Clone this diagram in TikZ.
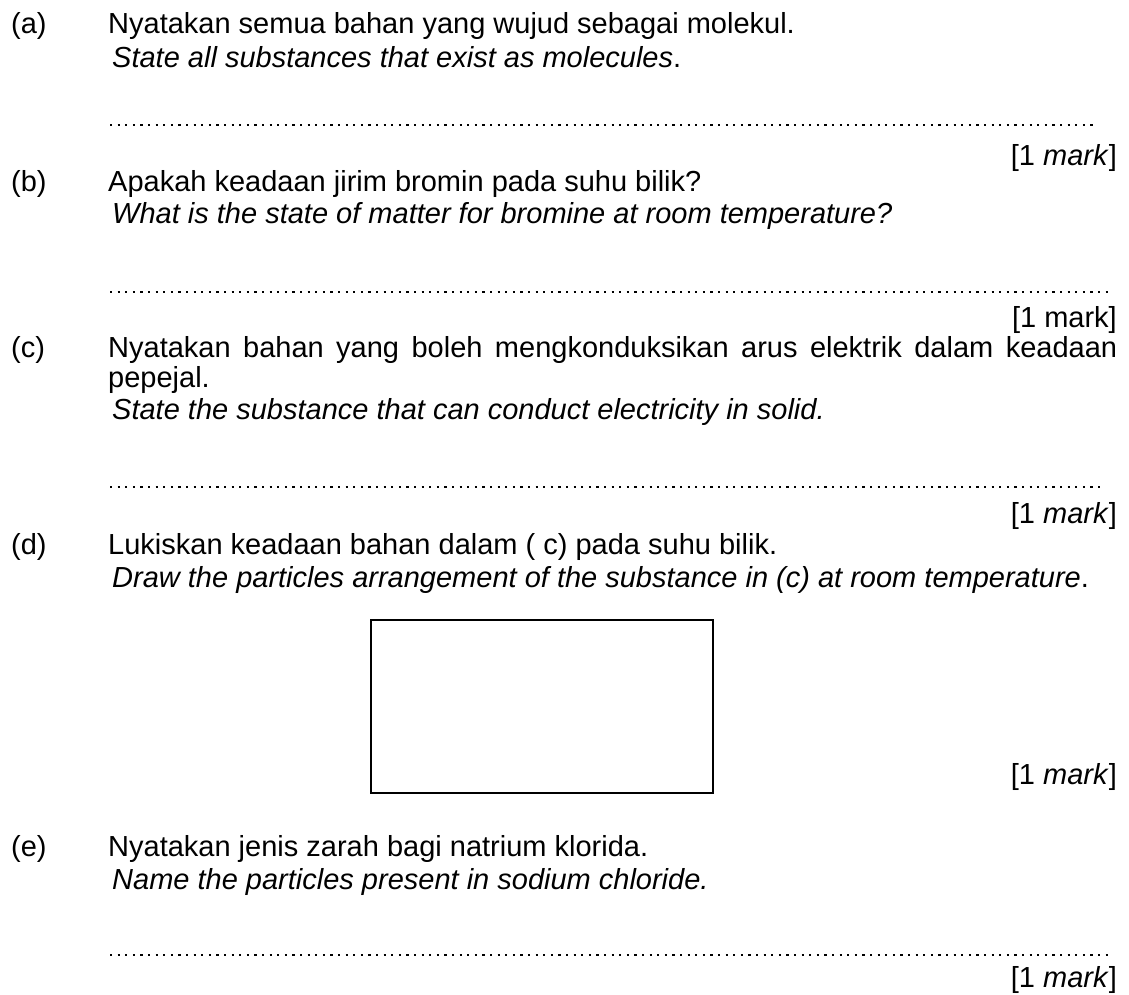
\documentclass[tikz,border=0pt]{standalone}
\usepackage{fontspec}
\setmainfont{Liberation Sans}
\begin{document}
\begin{tikzpicture}[x=1pt,y=-1pt,
  base/.style={inner sep=0pt,font=\fontsize{29}{33}\selectfont},
  lbl/.style={base,anchor=base west},
  txt/.style={base,anchor=base west},
  eng/.style={base,anchor=base west,font=\fontsize{29}{33}\selectfont\itshape},
  mk/.style={base,anchor=base east},
  dots/.style={line width=2.2pt,dash pattern=on 2.2pt off 5.4pt},
  answerbox/.style={draw,line width=2pt}]
\useasboundingbox (0,0) rectangle (1129,995);

% (a)
\node[lbl] (la) at (11,34) {(a)};
\node[txt] (ta1) at (108,34) {Nyatakan semua bahan yang wujud sebagai molekul.};
\node[eng] (ta2) at (112,68) {State all substances that exist as molecules\upshape.};
\coordinate (da1) at (110,125);
\coordinate (da2) at (1095,125);
\draw[dots] (da1) -- (da2);
\node[mk] (ma) at (1117,166) {[1 \textit{mark}]};

% (b)
\node[lbl] (lb) at (11,192) {(b)};
\node[txt] (tb1) at (108,192) {Apakah keadaan jirim bromin pada suhu bilik?};
\node[eng] (tb2) at (112,223) {What is the state of matter for bromine at room temperature?};
\coordinate (db1) at (110,292);
\coordinate (db2) at (1108,292);
\draw[dots] (db1) -- (db2);
\node[mk] (mb) at (1117,327) {[1 mark]};

% (c)
\node[lbl] (lc) at (11,357) {(c)};
\node[txt] (tc1) at (108,357) {\makebox[1009pt][s]{Nyatakan bahan yang boleh mengkonduksikan arus elektrik dalam keadaan}};
\node[txt] (tc2) at (108,387) {pepejal.};
\node[eng] (tc3) at (112,419) {State the substance that can conduct electricity in solid.};
\coordinate (dc1) at (110,487);
\coordinate (dc2) at (1100,487);
\draw[dots] (dc1) -- (dc2);
\node[mk] (mc) at (1117,523) {[1 \textit{mark}]};

% (d)
\node[lbl] (ld) at (11,554) {(d)};
\node[txt] (td1) at (108,554) {Lukiskan keadaan bahan dalam ( c) pada suhu bilik.};
\node[eng] (td2) at (112,587) {Draw the particles arrangement of the substance in (c) at room temperature\upshape.};
\node[answerbox,minimum width=342pt,minimum height=173pt,anchor=north west] (box) at (370,619) {};
\node[mk] (md) at (1117,784) {[1 \textit{mark}]};

% (e)
\node[lbl] (le) at (11,856) {(e)};
\node[txt] (te1) at (108,856) {Nyatakan jenis zarah bagi natrium klorida.};
\node[eng] (te2) at (112,889) {Name the particles present in sodium chloride.};
\coordinate (de1) at (110,955);
\coordinate (de2) at (1110,955);
\draw[dots] (de1) -- (de2);
\node[mk] (me) at (1117,987) {[1 \textit{mark}]};
\end{tikzpicture}
\end{document}
